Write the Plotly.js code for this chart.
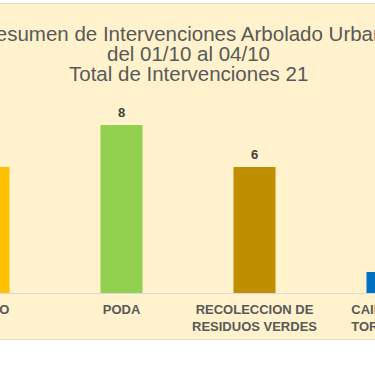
<!DOCTYPE html>
<html>
<head>
<meta charset="utf-8">
<script src="https://cdn.plot.ly/plotly-3.0.1.min.js"></script>
<style>
  html, body { margin: 0; padding: 0; background: #ffffff; width: 375px; height: 366px; overflow: hidden; position: relative; }
  #frame { position: absolute; left: 0; top: 3px; width: 375px; height: 337px; border-top: 1px solid #e3dccb; border-bottom: 1px solid #e3dccb; box-sizing: border-box; overflow: hidden; background: #FFF2CC; }
  #chart { position: absolute; left: -100px; top: -1px; width: 576px; height: 337px; }
</style>
</head>
<body>
<div id="frame"><div id="chart"></div></div>
<script>
// Data
const categories = ["RIEGO", "PODA", "RECOLECCION DE<br>RESIDUOS VERDES", "CAIDA POR<br>TORMENTA"];
const values = [6, 8, 6, 1];
const barColors = ["#FFC000", "#92D050", "#BF8F00", "#0070C0"];
const titleLines = [
  "Resumen de Intervenciones Arbolado Urbano",
  "del 01/10 al 04/10",
  "Total de Intervenciones 21"
];

const textColor = "#595959";
const fontFamily = "Liberation Sans, Arial, sans-serif";

const trace = {
  type: "bar",
  x: categories,
  y: values,
  marker: { color: barColors },
  hoverinfo: "none"
};

const annotations = [];
const titleY = [1.3756, 1.2698, 1.1640];
titleLines.forEach((t, i) => {
  annotations.push({
    text: t, xref: "paper", yref: "paper", x: 0.5, y: titleY[i],
    xanchor: "center", yanchor: "middle", showarrow: false, borderpad: 0,
    font: { family: fontFamily, size: 20.5, color: textColor }
  });
});
categories.forEach((c, i) => {
  annotations.push({
    text: String(values[i]), xref: "x", yref: "y", x: c, y: values[i],
    xanchor: "center", yanchor: "bottom", yshift: 3, showarrow: false,
    font: { family: fontFamily, size: 13, color: "#404040", weight: "bold" }
  });
});

const layout = {
  width: 576, height: 337,
  margin: { l: 22, r: 22, t: 101, b: 47, pad: 0 },
  paper_bgcolor: "#FFF2CC",
  plot_bgcolor: "#FFF2CC",
  showlegend: false,
  bargap: 0.684,
  xaxis: {
    type: "category",
    range: [-0.5, 3.5],
    showline: true, linecolor: "#d9d9d9", linewidth: 1,
    showgrid: false, zeroline: false, ticks: "",
    ticklabelstandoff: 4,
    tickfont: { family: fontFamily, size: 13, color: textColor, weight: "bold" },
    fixedrange: true
  },
  yaxis: {
    range: [0, 9],
    visible: false,
    showgrid: false, zeroline: false,
    fixedrange: true
  },
  annotations: annotations
};

Plotly.newPlot("chart", [trace], layout, { displayModeBar: false, staticPlot: true });
</script>
</body>
</html>
